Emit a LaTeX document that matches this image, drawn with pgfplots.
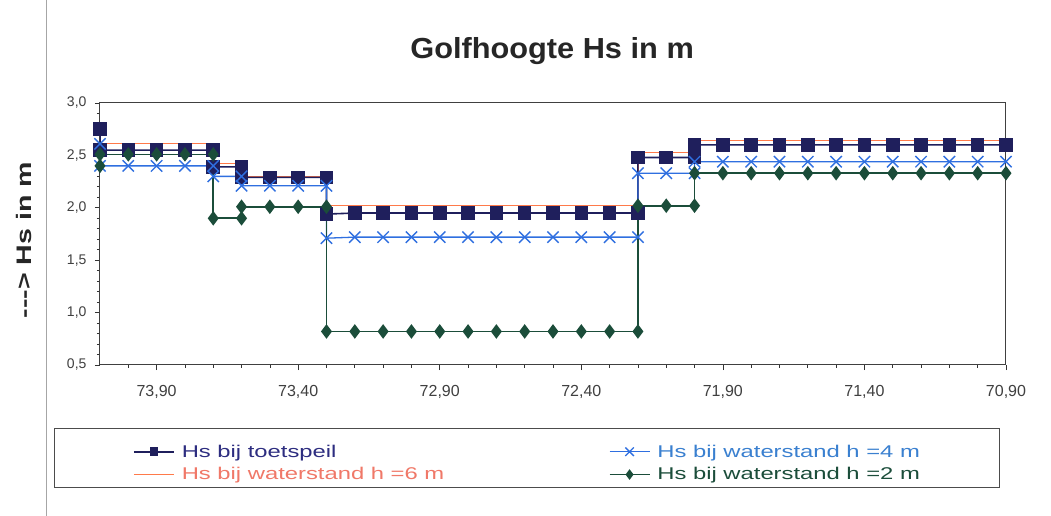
\documentclass[border=0pt]{standalone}
\usepackage{fontspec}
\setmainfont{Liberation Sans}
\newfontfamily\legfont[FakeStretch=1.4]{Liberation Sans}
\newfontfamily\ylabfont[FakeStretch=1.36]{Liberation Sans}
\newfontfamily\titfont[FakeStretch=1.06]{Liberation Sans}
\usepackage{pgfplots}
\pgfplotsset{compat=1.18}
\definecolor{cnavy}{HTML}{1F1F5C}
\definecolor{corange}{HTML}{FF7A4A}
\definecolor{corangetxt}{HTML}{F07868}
\definecolor{cblue}{HTML}{2F6FE0}
\definecolor{cbluetxt}{HTML}{3A80D0}
\definecolor{cgreen}{HTML}{1B4D3A}
\definecolor{cnavytxt}{HTML}{2D2D80}
\begin{document}
\begin{tikzpicture}
\useasboundingbox (0,0) rectangle (1051pt,516pt);
\fill[white] (0,0) rectangle (1051pt,516pt);
\draw[gray!70, line width=0.8pt] (46pt,0) -- (46pt,516pt);
\draw[black!70, line width=0.8pt] (54pt,29pt) rectangle (999pt,88pt);
\begin{axis}[
  at={(100pt,151pt)}, anchor=south west, scale only axis,
  width=906pt, height=262pt,
  x dir=reverse, xmin=70.9, xmax=74.1, ymin=0.5, ymax=3.0,
  xtick={70.9,71.4,71.9,72.4,72.9,73.4,73.9},
  minor xtick={71.0,71.1,71.2,71.3,71.5,71.6,71.7,71.8,72.0,72.1,72.2,72.3,72.5,72.6,72.7,72.8,73.0,73.1,73.2,73.3,73.5,73.6,73.7,73.8,74.0},
  ytick={0.5,1.0,1.5,2.0,2.5,3.0},
  minor ytick={0.6,0.7,0.8,0.9,1.1,1.2,1.3,1.4,1.6,1.7,1.8,1.9,2.1,2.2,2.3,2.4,2.6,2.7,2.8,2.9},
  xtick pos=left, ytick pos=left,
  tick align=outside,
  major tick length=5pt, minor tick length=3pt,
  tick style={black!80, line width=0.7pt},
  axis line style={black!75, line width=1pt},
  /pgf/number format/assume math mode=true,
  xticklabel style={font=\fontsize{16}{18}\selectfont, text=black!75, yshift=-12pt,
    /pgf/number format/.cd, fixed, fixed zerofill, precision=2, use comma},
  yticklabel style={font=\fontsize{14}{16}\selectfont, text=black!75, xshift=-5pt,
    /pgf/number format/.cd, fixed, fixed zerofill, precision=1, use comma},
  scaled x ticks=false,
  title={Golfhoogte Hs in m},
  title style={font=\titfont\bfseries\fontsize{29}{32}\selectfont, text=black!85,
    at={(axis description cs:0.499,1.147)}, anchor=base},
  ylabel={{-}{-}{-}> Hs in m},
  ylabel style={font=\ylabfont\bfseries\fontsize{21}{24}\selectfont, text=black!85,
    at={(axis description cs:-0.0751,0.477)}, anchor=base},
  legend columns=2,
  legend cell align=left,
  legend style={at={(axis description cs:0.0364,-0.300)}, anchor=north west,
    draw=none, fill=none, inner sep=0pt, row sep=7pt,
    font=\legfont\fontsize{17}{20}\selectfont, nodes={inner sep=1pt},
    /tikz/every odd column/.append style={column sep=6pt},
    /tikz/every even column/.append style={column sep=0pt}},
  legend image code/.code={\draw[mark repeat=2,mark phase=2] plot coordinates {(0pt,0pt) (20pt,0pt) (40pt,0pt)};},
]
% Hs bij waterstand h = 6 m
\addplot[forget plot, color=corange, line width=1.2pt, no marks] coordinates {
(74.1,2.61) (73.7,2.61) (73.7,2.42) (73.6,2.42) (73.6,2.30) (73.3,2.30)
(73.3,2.02) (72.2,2.02) (72.2,2.53) (72.0,2.53) (72.0,2.64) (70.9,2.64)};
% Hs bij toetspeil
\addplot[forget plot, color=cnavy, line width=1.6pt, mark=square*, mark size=6pt, mark options={fill=cnavy}] coordinates {
(74.1,2.75) (74.1,2.55) (74.0,2.55) (73.9,2.55) (73.8,2.55) (73.7,2.55)
(73.7,2.39) (73.6,2.39) (73.6,2.29) (73.5,2.29) (73.4,2.29) (73.3,2.29)
(73.3,1.94) (73.2,1.95) (73.1,1.95) (73.0,1.95) (72.9,1.95) (72.8,1.95) (72.7,1.95)
(72.6,1.95) (72.5,1.95) (72.4,1.95) (72.3,1.95) (72.2,1.95)
(72.2,2.48) (72.1,2.48) (72.0,2.48) (72.0,2.60) (71.9,2.60) (71.8,2.60) (71.7,2.60)
(71.6,2.60) (71.5,2.60) (71.4,2.60) (71.3,2.60) (71.2,2.60) (71.1,2.60) (71.0,2.60) (70.9,2.60)};
% Hs bij waterstand h = 4 m
\addplot[forget plot, color=cblue, line width=1.3pt, mark=x, mark size=8pt, mark options={line width=1.4pt}] coordinates {
(74.1,2.61) (74.1,2.40) (74.0,2.40) (73.9,2.40) (73.8,2.40) (73.7,2.40)
(73.7,2.30) (73.6,2.30) (73.6,2.21) (73.5,2.21) (73.4,2.21) (73.3,2.21)
(73.3,1.71) (73.2,1.72) (73.1,1.72) (73.0,1.72) (72.9,1.72) (72.8,1.72) (72.7,1.72)
(72.6,1.72) (72.5,1.72) (72.4,1.72) (72.3,1.72) (72.2,1.72)
(72.2,2.33) (72.1,2.33) (72.0,2.33) (72.0,2.44) (71.9,2.44) (71.8,2.44) (71.7,2.44)
(71.6,2.44) (71.5,2.44) (71.4,2.44) (71.3,2.44) (71.2,2.44) (71.1,2.44) (71.0,2.44) (70.9,2.44)};
% Hs bij waterstand h = 2 m
\addplot[forget plot, color=cgreen, line width=1.6pt, mark=diamond*, mark size=6pt, mark options={fill=cgreen}] coordinates {
(74.1,2.40) (74.1,2.51) (74.0,2.51) (73.9,2.51) (73.8,2.51) (73.7,2.51)
(73.7,1.90) (73.6,1.90) (73.6,2.01) (73.5,2.01) (73.4,2.01) (73.3,2.01)
(73.3,0.82) (73.2,0.82) (73.1,0.82) (73.0,0.82) (72.9,0.82) (72.8,0.82) (72.7,0.82)
(72.6,0.82) (72.5,0.82) (72.4,0.82) (72.3,0.82) (72.2,0.82)
(72.2,2.02) (72.1,2.02) (72.0,2.02) (72.0,2.33) (71.9,2.33) (71.8,2.33) (71.7,2.33)
(71.6,2.33) (71.5,2.33) (71.4,2.33) (71.3,2.33) (71.2,2.33) (71.1,2.33) (71.0,2.33) (70.9,2.33)};
% legend
\addlegendimage{color=cnavy, line width=1.6pt, mark=square*, mark size=3.5pt, mark options={fill=cnavy}}
\addlegendentry{\makebox[426pt][l]{\textcolor{cnavytxt}{Hs bij toetspeil}}}
\addlegendimage{color=cblue, line width=1.3pt, mark=x, mark size=6pt}
\addlegendentry{\textcolor{cbluetxt}{Hs bij waterstand h =4 m}}
\addlegendimage{color=corange, line width=1.2pt, no marks}
\addlegendentry{\makebox[426pt][l]{\textcolor{corangetxt}{Hs bij waterstand h =6 m}}}
\addlegendimage{color=cgreen, line width=1.6pt, mark=diamond*, mark size=4pt, mark options={fill=cgreen}}
\addlegendentry{\textcolor{cgreen}{Hs bij waterstand h =2 m}}
\end{axis}
\end{tikzpicture}
\end{document}
